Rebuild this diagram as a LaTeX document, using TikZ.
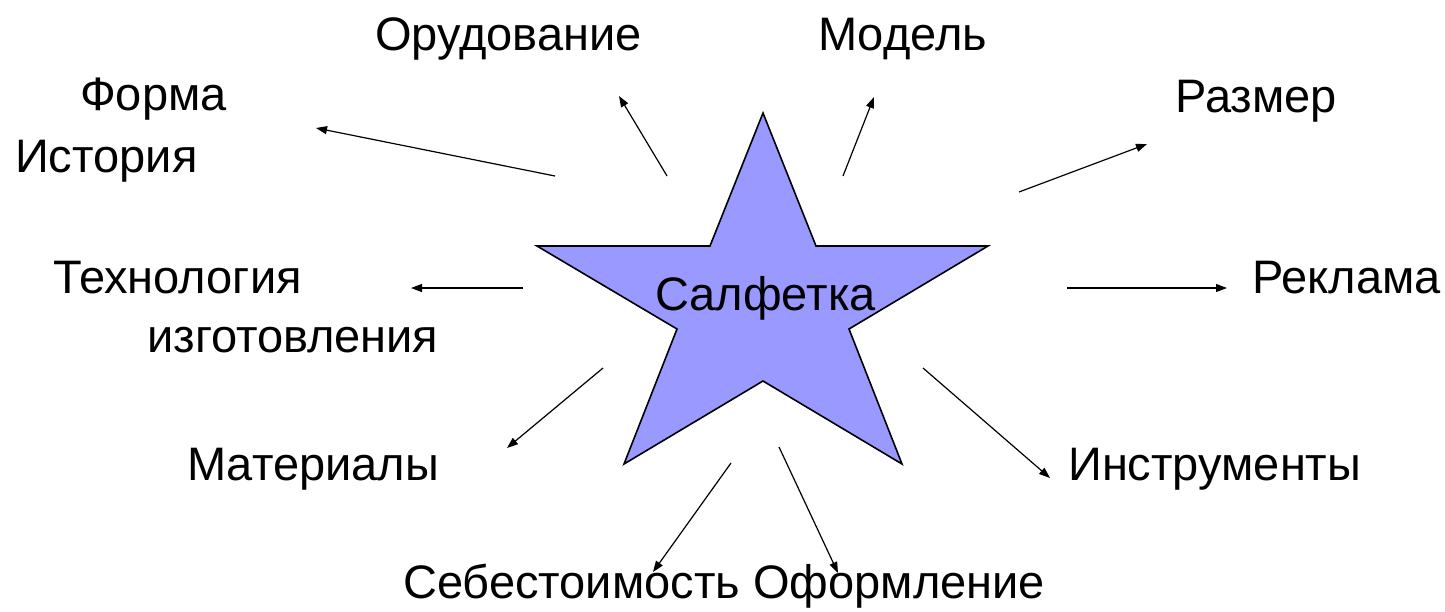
\documentclass[tikz,border=0pt]{standalone}
\usepackage{fontspec}
\setmainfont{Liberation Sans}
\usepackage{xcolor}
\usepackage{tikz}
\usetikzlibrary{arrows.meta}
\definecolor{zvezda}{RGB}{153,153,255}

\begin{document}
\begin{tikzpicture}[x=1pt,y=-1pt,
  slovo/.style={anchor=base west,inner sep=0pt,font=\fontsize{47}{54}\selectfont},
  fl/.style={-{Triangle[length=11pt,width=8pt]},line width=1.2pt,black}]

  \useasboundingbox (0,0) rectangle (1445,611);

  % zvezda
  \draw[line width=1.6pt,fill=zvezda,line join=miter]
    (763,113) -- (816,246) -- (988,246) -- (849,329) -- (902,464)
    -- (763,381) -- (624,464) -- (677,329) -- (537,246) -- (710,246) -- cycle;
  \node[slovo] (salf) at (655,310) {Салфетка};

  \node[slovo] (forma) at (80,110)   {Форма};
  \node[slovo] (ist)   at (15,172)   {История};
  \node[slovo] (orud)  at (375,50)   {Орудование};
  \node[slovo] (mod)   at (818,50)   {Модель};
  \node[slovo] (razm)  at (1175,112) {Размер};
  \node[slovo] (tehn)  at (53,293)   {Технология};
  \node[slovo] (izg)   at (147,352)  {изготовления};
  \node[slovo] (rekl)  at (1252,293) {Реклама};
  \node[slovo] (mat)   at (187,480)  {Материалы};
  \node[slovo] (instr) at (1068,480) {Инструменты};
  \node[slovo] (seb)   at (403,598)  {Себестоимость};
  \node[slovo] (ofor)  at (753,598)  {Оформление};

  % koncy strelok
  \coordinate (a1) at (555,176);  \coordinate (b1) at (316,128);
  \coordinate (a2) at (667,176);  \coordinate (b2) at (619,96);
  \coordinate (a3) at (843,176);  \coordinate (b3) at (874,97);
  \coordinate (a4) at (1019,192); \coordinate (b4) at (1147,144);
  \coordinate (a5) at (1067,288); \coordinate (b5) at (1227,288);
  \coordinate (a6) at (523,288);  \coordinate (b6) at (411,288);
  \coordinate (a7) at (603,368);  \coordinate (b7) at (507,448);
  \coordinate (a8) at (731,463);  \coordinate (b8) at (653,572);
  \coordinate (a9) at (779,447);  \coordinate (b9) at (838,573);
  \coordinate (a10) at (923,368); \coordinate (b10) at (1050,478);

  \draw[fl] (a1)--(b1); \draw[fl] (a2)--(b2); \draw[fl] (a3)--(b3);
  \draw[fl] (a4)--(b4); \draw[fl] (a5)--(b5); \draw[fl] (a6)--(b6);
  \draw[fl] (a7)--(b7); \draw[fl] (a8)--(b8); \draw[fl] (a9)--(b9);
  \draw[fl] (a10)--(b10);
\end{tikzpicture}
\end{document}
